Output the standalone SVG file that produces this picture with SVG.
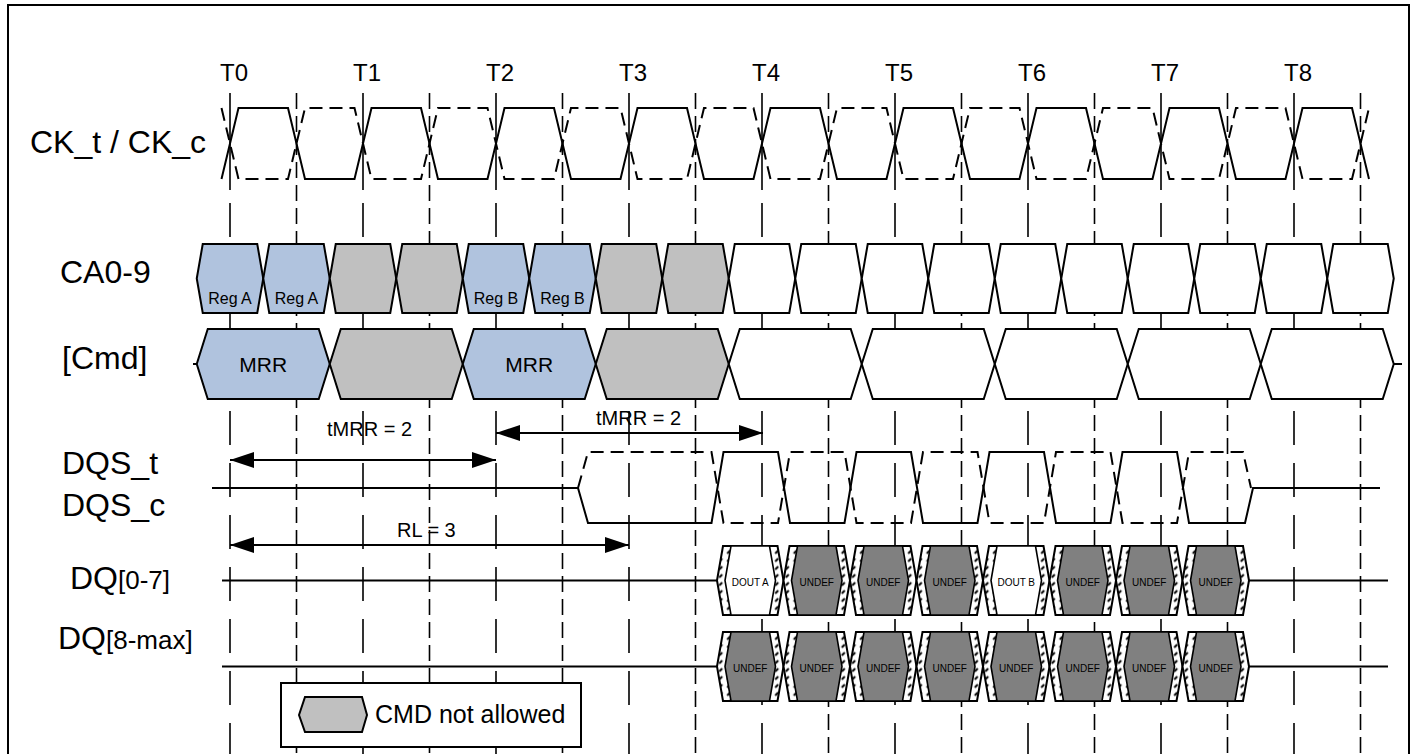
<svg xmlns="http://www.w3.org/2000/svg" xmlns:xlink="http://www.w3.org/1999/xlink" width="1415" height="754" viewBox="0 0 1415 754">
<style>
text{font-family:"Liberation Sans",Arial,sans-serif;fill:#000}
.lbl{font-size:32px}
.tl{font-size:24px}
.sm{font-size:16px;text-anchor:middle}
.mrr{font-size:21px;text-anchor:middle}
.dq{font-size:10px;text-anchor:middle}
.ann{font-size:20px}
.w{stroke:#000;stroke-width:2;fill:none;stroke-linejoin:miter}
.wd{stroke:#000;stroke-width:2;fill:none;stroke-dasharray:13 7}
.gs{stroke:#000;stroke-width:1.6;fill:none}
.gd{stroke:#000;stroke-width:1.6;fill:none;stroke-dasharray:34 18}
.gh{stroke:#000;stroke-width:1.6;fill:none;stroke-dasharray:16 7}
.blue{fill:#B0C3DE;stroke:#000;stroke-width:2}
.grey{fill:#C0C0C0;stroke:#000;stroke-width:2}
.white{fill:#fff;stroke:#000;stroke-width:2}
.dk{fill:#808080;stroke:#000;stroke-width:1.6}
.wi{fill:#fff;stroke:#000;stroke-width:1.6}
.ht{fill:url(#hatch);stroke:#000;stroke-width:2}
.arr{stroke:#000;stroke-width:2;fill:none;marker-start:url(#ah);marker-end:url(#ah)}
</style>
<defs>
<marker id="ah" markerWidth="24" markerHeight="16" refX="24" refY="8" orient="auto-start-reverse" markerUnits="userSpaceOnUse"><path d="M0,0 L24,8 L0,16 Z" fill="#000"/></marker>
<pattern id="hatch" width="8" height="8" patternUnits="userSpaceOnUse"><rect width="8" height="8" fill="#fff"/><path d="M1,5 L4,2" stroke="#000" stroke-width="2"/></pattern>
<path id="ca" d="M-33.25,0 L-27.25,-34.5 L27.25,-34.5 L33.25,0 L27.25,34.5 L-27.25,34.5 Z"/>
<path id="cmd" d="M-66.5,0 L-55.5,-35 L55.5,-35 L66.5,0 L55.5,35 L-55.5,35 Z"/>
<path id="eo" d="M-33.25,0 L-27.25,-34.5 L27.25,-34.5 L33.25,0 L27.25,34.5 L-27.25,34.5 Z"/>
<path id="ei" d="M-25.25,0 L-19.25,-34.5 L19.25,-34.5 L25.25,0 L19.25,34.5 L-19.25,34.5 Z"/>
</defs>
<rect x="0" y="0" width="1415" height="754" fill="#fff"/>
<rect x="8" y="5" width="1401" height="760" fill="none" stroke="#000" stroke-width="2"/>

<g id="grid">
<path class="gs" d="M230,93V190M363,93V190M496,93V190M629,93V190M762,93V190M895,93V190M1028,93V190M1161,93V190M1294,93V190"/>
<path class="gd" d="M230,203V760M363,203V760M496,203V760M629,203V760M762,203V760M895,203V760M1028,203V760M1161,203V760M1294,203V760"/>
<path class="gh" d="M296.5,93V760M429.5,93V760M562.5,93V760M695.5,93V760M828.5,93V760M961.5,93V760M1094.5,93V760M1227.5,93V760M1360.5,93V760"/>
</g>

<g id="labels">
<text class="tl" x="220" y="81">T0</text>
<text class="tl" x="353" y="81">T1</text>
<text class="tl" x="486" y="81">T2</text>
<text class="tl" x="619" y="81">T3</text>
<text class="tl" x="752" y="81">T4</text>
<text class="tl" x="885" y="81">T5</text>
<text class="tl" x="1018" y="81">T6</text>
<text class="tl" x="1151" y="81">T7</text>
<text class="tl" x="1284" y="81">T8</text>
<text class="lbl" x="30" y="153">CK_t / CK_c</text>
<text class="lbl" x="60" y="283">CA0-9</text>
<text class="lbl" x="62" y="369">[Cmd]</text>
<text class="lbl" x="62" y="474">DQS_t</text>
<text class="lbl" x="62" y="516">DQS_c</text>
<text class="lbl" x="70" y="589">DQ<tspan font-size="26">[0-7]</tspan></text>
<text class="lbl" x="58" y="649">DQ<tspan font-size="26">[8-max]</tspan></text>
</g>

<g id="clock">
<path class="w" d="M221.5,179 L238.5,108 L288,108 L305,179 L354.5,179 L371.5,108 L421,108 L438,179 L487.5,179 L504.5,108 L554,108 L571,179 L620.5,179 L637.5,108 L687,108 L704,179 L753.5,179 L770.5,108 L820,108 L837,179 L886.5,179 L903.5,108 L953,108 L970,179 L1019.5,179 L1036.5,108 L1086,108 L1103,179 L1152.5,179 L1169.5,108 L1219,108 L1236,179 L1285.5,179 L1302.5,108 L1352,108 L1369,179"/>
<path class="wd" d="M221.5,108 L238.5,179 L288,179 L305,108 L354.5,108 L371.5,179 L421,179 L438,108 L487.5,108 L504.5,179 L554,179 L571,108 L620.5,108 L637.5,179 L687,179 L704,108 L753.5,108 L770.5,179 L820,179 L837,108 L886.5,108 L903.5,179 L953,179 L970,108 L1019.5,108 L1036.5,179 L1086,179 L1103,108 L1152.5,108 L1169.5,179 L1219,179 L1236,108 L1285.5,108 L1302.5,179 L1352,179 L1369,108"/>
</g>

<g id="ca-row">
<use xlink:href="#ca" x="230" y="278.5" class="blue"/>
<use xlink:href="#ca" x="296.5" y="278.5" class="blue"/>
<use xlink:href="#ca" x="363" y="278.5" class="grey"/>
<use xlink:href="#ca" x="429.5" y="278.5" class="grey"/>
<use xlink:href="#ca" x="496" y="278.5" class="blue"/>
<use xlink:href="#ca" x="562.5" y="278.5" class="blue"/>
<use xlink:href="#ca" x="629" y="278.5" class="grey"/>
<use xlink:href="#ca" x="695.5" y="278.5" class="grey"/>
<use xlink:href="#ca" x="762" y="278.5" class="white"/>
<use xlink:href="#ca" x="828.5" y="278.5" class="white"/>
<use xlink:href="#ca" x="895" y="278.5" class="white"/>
<use xlink:href="#ca" x="961.5" y="278.5" class="white"/>
<use xlink:href="#ca" x="1028" y="278.5" class="white"/>
<use xlink:href="#ca" x="1094.5" y="278.5" class="white"/>
<use xlink:href="#ca" x="1161" y="278.5" class="white"/>
<use xlink:href="#ca" x="1227.5" y="278.5" class="white"/>
<use xlink:href="#ca" x="1294" y="278.5" class="white"/>
<use xlink:href="#ca" x="1360.5" y="278.5" class="white"/>
<text class="sm" x="230" y="304">Reg A</text>
<text class="sm" x="296.5" y="304">Reg A</text>
<text class="sm" x="496" y="304">Reg B</text>
<text class="sm" x="562.5" y="304">Reg B</text>
</g>

<g id="cmd-row">
<path class="w" d="M193,364H197M1393.75,364H1402"/>
<use xlink:href="#cmd" x="263.25" y="364" class="blue"/>
<use xlink:href="#cmd" x="396.25" y="364" class="grey"/>
<use xlink:href="#cmd" x="529.25" y="364" class="blue"/>
<use xlink:href="#cmd" x="662.25" y="364" class="grey"/>
<use xlink:href="#cmd" x="795.25" y="364" class="white"/>
<use xlink:href="#cmd" x="928.25" y="364" class="white"/>
<use xlink:href="#cmd" x="1061.25" y="364" class="white"/>
<use xlink:href="#cmd" x="1194.25" y="364" class="white"/>
<use xlink:href="#cmd" x="1327.25" y="364" class="white"/>
<text class="mrr" x="263.25" y="371.5">MRR</text>
<text class="mrr" x="529.25" y="371.5">MRR</text>
</g>

<g id="dqs">
<path class="w" d="M212,488 L578,488 L588,523 L711.5,523 L723.5,452 L778,452 L790,523 L844.5,523 L856.5,452 L911,452 L923,523 L977.5,523 L989.5,452 L1044,452 L1056,523 L1110.5,523 L1122.5,452 L1177,452 L1189,523 L1245,523 L1253,488 L1380,488"/>
<path class="wd" d="M578,488 L588,452 L711.5,452 L723.5,523 L778,523 L790,452 L844.5,452 L856.5,523 L911,523 L923,452 L977.5,452 L989.5,523 L1044,523 L1056,452 L1110.5,452 L1122.5,523 L1177,523 L1189,452 L1243,452 L1251,488"/>
</g>

<g id="dq07">
<path class="w" d="M222,580.5H717M1249,580.5H1388"/>
<use xlink:href="#eo" x="750.25" y="580.5" class="ht"/><use xlink:href="#ei" x="750.25" y="580.5" class="wi"/>
<use xlink:href="#eo" x="816.75" y="580.5" class="ht"/><use xlink:href="#ei" x="816.75" y="580.5" class="dk"/>
<use xlink:href="#eo" x="883.25" y="580.5" class="ht"/><use xlink:href="#ei" x="883.25" y="580.5" class="dk"/>
<use xlink:href="#eo" x="949.75" y="580.5" class="ht"/><use xlink:href="#ei" x="949.75" y="580.5" class="dk"/>
<use xlink:href="#eo" x="1016.25" y="580.5" class="ht"/><use xlink:href="#ei" x="1016.25" y="580.5" class="wi"/>
<use xlink:href="#eo" x="1082.75" y="580.5" class="ht"/><use xlink:href="#ei" x="1082.75" y="580.5" class="dk"/>
<use xlink:href="#eo" x="1149.25" y="580.5" class="ht"/><use xlink:href="#ei" x="1149.25" y="580.5" class="dk"/>
<use xlink:href="#eo" x="1215.75" y="580.5" class="ht"/><use xlink:href="#ei" x="1215.75" y="580.5" class="dk"/>
<text class="dq" x="750.25" y="585.5">DOUT A</text>
<text class="dq" x="816.75" y="585.5">UNDEF</text>
<text class="dq" x="883.25" y="585.5">UNDEF</text>
<text class="dq" x="949.75" y="585.5">UNDEF</text>
<text class="dq" x="1016.25" y="585.5">DOUT B</text>
<text class="dq" x="1082.75" y="585.5">UNDEF</text>
<text class="dq" x="1149.25" y="585.5">UNDEF</text>
<text class="dq" x="1215.75" y="585.5">UNDEF</text>
</g>

<g id="dq8max">
<path class="w" d="M222,666.5H717M1249,666.5H1388"/>
<use xlink:href="#eo" x="750.25" y="666.5" class="ht"/><use xlink:href="#ei" x="750.25" y="666.5" class="dk"/>
<use xlink:href="#eo" x="816.75" y="666.5" class="ht"/><use xlink:href="#ei" x="816.75" y="666.5" class="dk"/>
<use xlink:href="#eo" x="883.25" y="666.5" class="ht"/><use xlink:href="#ei" x="883.25" y="666.5" class="dk"/>
<use xlink:href="#eo" x="949.75" y="666.5" class="ht"/><use xlink:href="#ei" x="949.75" y="666.5" class="dk"/>
<use xlink:href="#eo" x="1016.25" y="666.5" class="ht"/><use xlink:href="#ei" x="1016.25" y="666.5" class="dk"/>
<use xlink:href="#eo" x="1082.75" y="666.5" class="ht"/><use xlink:href="#ei" x="1082.75" y="666.5" class="dk"/>
<use xlink:href="#eo" x="1149.25" y="666.5" class="ht"/><use xlink:href="#ei" x="1149.25" y="666.5" class="dk"/>
<use xlink:href="#eo" x="1215.75" y="666.5" class="ht"/><use xlink:href="#ei" x="1215.75" y="666.5" class="dk"/>
<text class="dq" x="750.25" y="671.5">UNDEF</text>
<text class="dq" x="816.75" y="671.5">UNDEF</text>
<text class="dq" x="883.25" y="671.5">UNDEF</text>
<text class="dq" x="949.75" y="671.5">UNDEF</text>
<text class="dq" x="1016.25" y="671.5">UNDEF</text>
<text class="dq" x="1082.75" y="671.5">UNDEF</text>
<text class="dq" x="1149.25" y="671.5">UNDEF</text>
<text class="dq" x="1215.75" y="671.5">UNDEF</text>
</g>

<g id="connectors">
<path class="arr" d="M230,460H496"/>
<path class="arr" d="M496,433H763"/>
<path class="arr" d="M230,545H629"/>
<text class="ann" x="327" y="436">tMRR = 2</text>
<text class="ann" x="596" y="425">tMRR = 2</text>
<text class="ann" x="397" y="537">RL = 3</text>
</g>

<g id="legend">
<rect x="281" y="683" width="300" height="64" fill="#fff" stroke="#000" stroke-width="2"/>
<polygon points="299,715 305,697 362,697 367,715 362,732 305,732" fill="#C0C0C0" stroke="#000" stroke-width="2"/>
<text x="375" y="723" style="font-size:25px">CMD not allowed</text>
</g>
</svg>
